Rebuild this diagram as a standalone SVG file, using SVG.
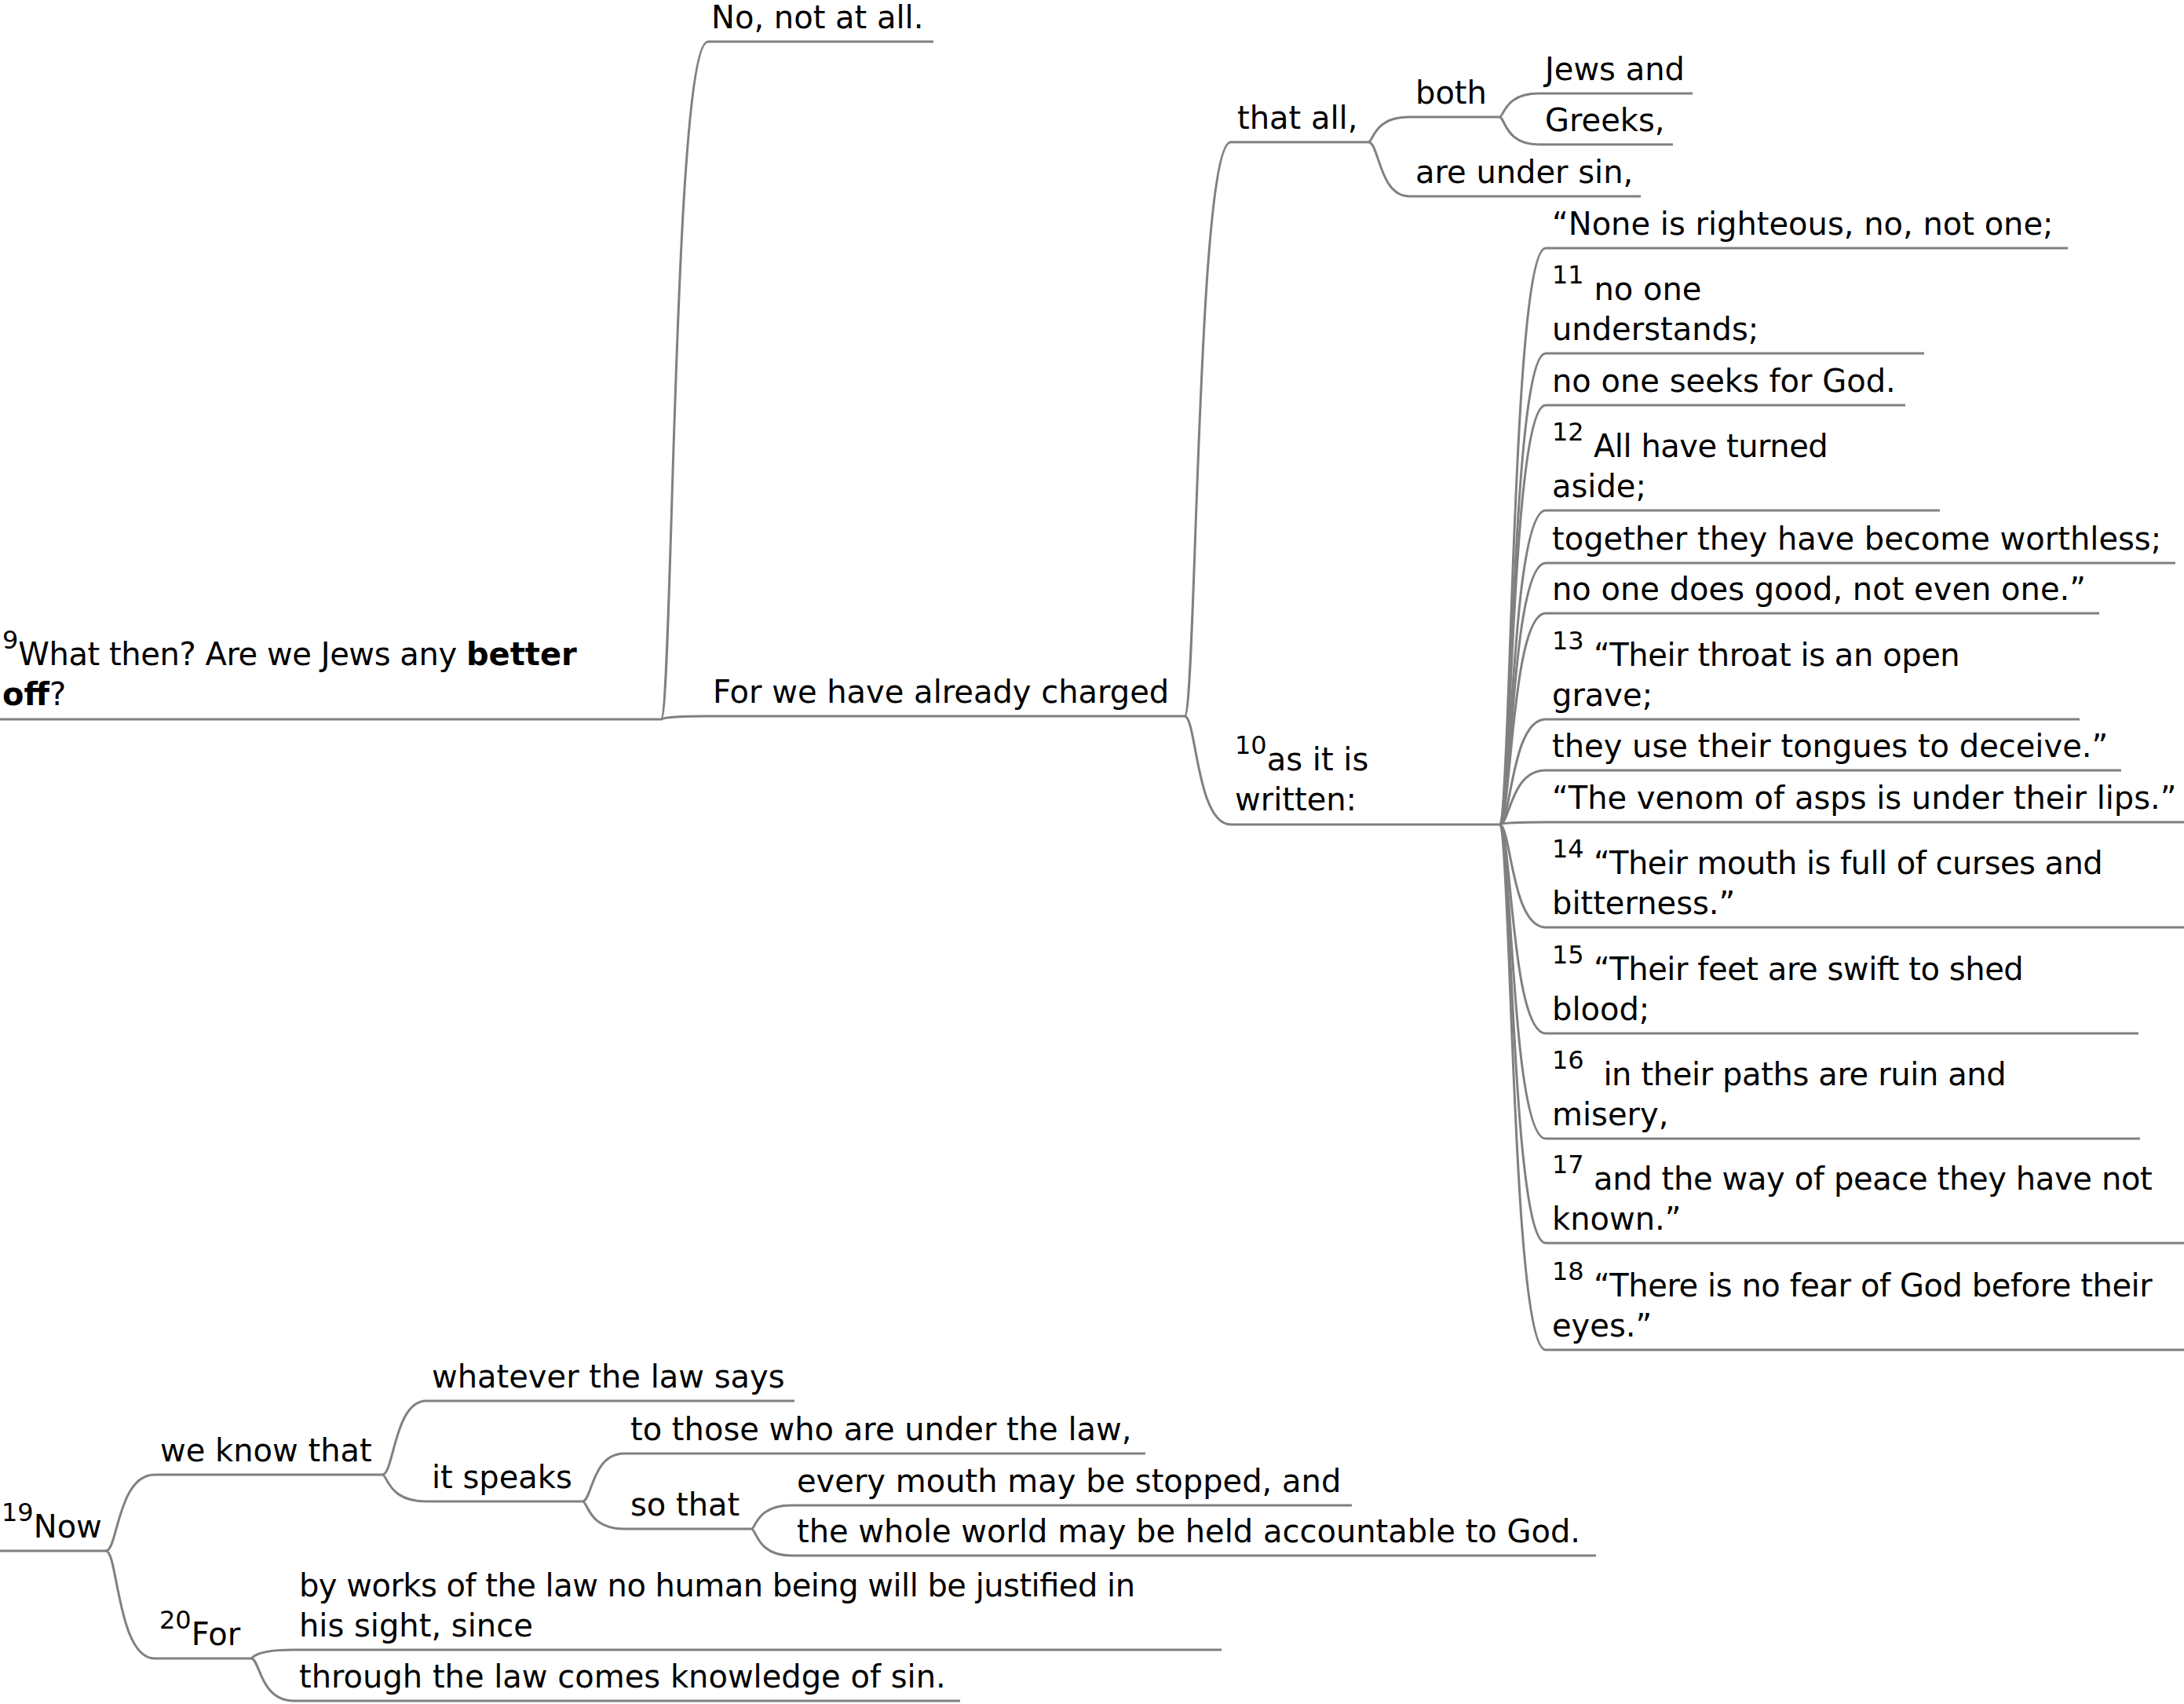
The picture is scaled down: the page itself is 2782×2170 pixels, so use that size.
<svg xmlns="http://www.w3.org/2000/svg" width="2782" height="2170" viewBox="0 0 2782 2170">
<style>
text { font-family: "DejaVu Sans", "Noto Sans", sans-serif; font-size: 40px; fill: #000; }
.s { font-size: 32px; }
.b { font-weight: bold; }
.u { stroke: #808080; stroke-width: 3; fill: none; }
#connectors path { stroke: #808080; stroke-width: 3; fill: none; }
</style>
<rect width="2782" height="2170" fill="#fff"/>
<g id="connectors">
<path d="M842,916 C857,916 857,53 902,53"/>
<path d="M842,916 C843,916 843,912 903,912"/>
<path d="M1509,912 C1524,912 1524,181 1568,181"/>
<path d="M1509,912 C1524,912 1524,1050 1568,1050"/>
<path d="M1743,181 C1749.4,181 1749.4,149 1795,149"/>
<path d="M1743,181 C1756.8,181 1756.8,250 1795,250"/>
<path d="M1910,149 C1916,149 1916,119 1960,119"/>
<path d="M1910,149 C1917,149 1917,184 1960,184"/>
<path d="M1910,1050 C1925,1050 1925,316 1969,316"/>
<path d="M1910,1050 C1925,1050 1925,450 1969,450"/>
<path d="M1910,1050 C1925,1050 1925,516 1969,516"/>
<path d="M1910,1050 C1925,1050 1925,650 1969,650"/>
<path d="M1910,1050 C1925,1050 1925,717 1969,717"/>
<path d="M1910,1050 C1925,1050 1925,781 1969,781"/>
<path d="M1910,1050 C1925,1050 1925,916 1969,916"/>
<path d="M1910,1050 C1923.8,1050 1923.8,981 1969,981"/>
<path d="M1910,1050 C1910.6,1050 1910.6,1047 1969,1047"/>
<path d="M1910,1050 C1925,1050 1925,1181 1969,1181"/>
<path d="M1910,1050 C1925,1050 1925,1316 1969,1316"/>
<path d="M1910,1050 C1925,1050 1925,1450 1969,1450"/>
<path d="M1910,1050 C1925,1050 1925,1583 1969,1583"/>
<path d="M1910,1050 C1925,1050 1925,1719 1969,1719"/>
<path d="M135,1975 C150,1975 150,1878 197,1878"/>
<path d="M135,1975 C150,1975 150,2112 197,2112"/>
<path d="M487,1878 C502,1878 502,1784 543,1784"/>
<path d="M487,1878 C493.8,1878 493.8,1912 543,1912"/>
<path d="M742,1912 C754,1912 754,1851 795,1851"/>
<path d="M742,1912 C749,1912 749,1947 795,1947"/>
<path d="M957,1947 C963,1947 963,1917 1008,1917"/>
<path d="M957,1947 C963.8,1947 963.8,1981 1008,1981"/>
<path d="M320,2112 C322,2112 322,2101 374,2101"/>
<path d="M320,2112 C331,2112 331,2166 374,2166"/>
</g>

<g id="n-root9">
<line class="u" x1="0" y1="916" x2="842" y2="916"/>
<text x="3" y="847"><tspan class="s" dy="-21">9</tspan><tspan dy="21" textLength="571" lengthAdjust="spacing">What then? Are we Jews any </tspan><tspan class="b">better</tspan></text>
<text x="3" y="898"><tspan class="b">off</tspan>?</text>
</g>
<g id="n-no">
<line class="u" x1="902" y1="53" x2="1189" y2="53"/>
<text x="906" y="36">No, not at all.</text>
</g>
<g id="n-for">
<line class="u" x1="903" y1="912" x2="1509" y2="912"/>
<text x="908" y="895">For we have already charged</text>
</g>
<g id="n-thatall">
<line class="u" x1="1568" y1="181" x2="1743" y2="181"/>
<text x="1576" y="164">that all,</text>
</g>
<g id="n-both">
<line class="u" x1="1795" y1="149" x2="1910" y2="149"/>
<text x="1803" y="132">both</text>
</g>
<g id="n-jews">
<line class="u" x1="1960" y1="119" x2="2156" y2="119"/>
<text x="1968" y="102">Jews and</text>
</g>
<g id="n-greeks">
<line class="u" x1="1960" y1="184" x2="2131" y2="184"/>
<text x="1968" y="167">Greeks,</text>
</g>
<g id="n-undersin">
<line class="u" x1="1795" y1="250" x2="2090" y2="250"/>
<text x="1803" y="233">are under sin,</text>
</g>
<g id="n-written">
<line class="u" x1="1568" y1="1050" x2="1910" y2="1050"/>
<text x="1573" y="981"><tspan class="s" dy="-21">10</tspan><tspan dy="21">as it is</tspan></text>
<text x="1573" y="1032">written:</text>
</g>

<g id="n-v10">
<line class="u" x1="1969" y1="316" x2="2634" y2="316"/>
<text x="1977" y="299">“None is righteous, no, not one;</text>
</g>
<g id="n-v11a">
<line class="u" x1="1969" y1="450" x2="2451" y2="450"/>
<text x="1977" y="382"><tspan class="s" dy="-21">11</tspan><tspan dy="21"> no one</tspan></text>
<text x="1977" y="433">understands;</text>
</g>
<g id="n-v11b">
<line class="u" x1="1969" y1="516" x2="2427" y2="516"/>
<text x="1977" y="499">no one seeks for God.</text>
</g>
<g id="n-v12a">
<line class="u" x1="1969" y1="650" x2="2471" y2="650"/>
<text x="1977" y="582"><tspan class="s" dy="-21">12</tspan><tspan dy="21" textLength="311" lengthAdjust="spacing"> All have turned</tspan></text>
<text x="1977" y="633">aside;</text>
</g>
<g id="n-v12b">
<line class="u" x1="1969" y1="717" x2="2771" y2="717"/>
<text x="1977" y="700">together they have become worthless;</text>
</g>
<g id="n-v12c">
<line class="u" x1="1969" y1="781" x2="2674" y2="781"/>
<text x="1977" y="764">no one does good, not even one.”</text>
</g>
<g id="n-v13a">
<line class="u" x1="1969" y1="916" x2="2649" y2="916"/>
<text x="1977" y="848"><tspan class="s" dy="-21">13</tspan><tspan dy="21" textLength="479" lengthAdjust="spacing"> “Their throat is an open</tspan></text>
<text x="1977" y="899">grave;</text>
</g>
<g id="n-v13b">
<line class="u" x1="1969" y1="981" x2="2702" y2="981"/>
<text x="1977" y="964">they use their tongues to deceive.”</text>
</g>
<g id="n-v13c">
<line class="u" x1="1969" y1="1047" x2="2782" y2="1047"/>
<text x="1977" y="1030">“The venom of asps is under their lips.”</text>
</g>
<g id="n-v14">
<line class="u" x1="1969" y1="1181" x2="2782" y2="1181"/>
<text x="1977" y="1113"><tspan class="s" dy="-21">14</tspan><tspan dy="21" textLength="661" lengthAdjust="spacing"> “Their mouth is full of curses and</tspan></text>
<text x="1977" y="1164">bitterness.”</text>
</g>
<g id="n-v15">
<line class="u" x1="1969" y1="1316" x2="2724" y2="1316"/>
<text x="1977" y="1248"><tspan class="s" dy="-21">15</tspan><tspan dy="21" textLength="560" lengthAdjust="spacing"> “Their feet are swift to shed</tspan></text>
<text x="1977" y="1299">blood;</text>
</g>
<g id="n-v16">
<line class="u" x1="1969" y1="1450" x2="2726" y2="1450"/>
<text x="1977" y="1382" xml:space="preserve"><tspan class="s" dy="-21">16</tspan><tspan dy="21" textLength="538" lengthAdjust="spacing">  in their paths are ruin and</tspan></text>
<text x="1977" y="1433">misery,</text>
</g>
<g id="n-v17">
<line class="u" x1="1969" y1="1583" x2="2782" y2="1583"/>
<text x="1977" y="1515"><tspan class="s" dy="-21">17</tspan><tspan dy="21" textLength="724" lengthAdjust="spacing"> and the way of peace they have not</tspan></text>
<text x="1977" y="1566">known.”</text>
</g>
<g id="n-v18">
<line class="u" x1="1969" y1="1719" x2="2782" y2="1719"/>
<text x="1977" y="1651"><tspan class="s" dy="-21">18</tspan><tspan dy="21" textLength="724" lengthAdjust="spacing"> “There is no fear of God before their</tspan></text>
<text x="1977" y="1702">eyes.”</text>
</g>

<g id="n-now">
<line class="u" x1="0" y1="1975" x2="135" y2="1975"/>
<text x="2" y="1958"><tspan class="s" dy="-21">19</tspan><tspan dy="21">Now</tspan></text>
</g>
<g id="n-weknow">
<line class="u" x1="197" y1="1878" x2="487" y2="1878"/>
<text x="204" y="1861">we know that</text>
</g>
<g id="n-whatever">
<line class="u" x1="543" y1="1784" x2="1012" y2="1784"/>
<text x="550" y="1767">whatever the law says</text>
</g>
<g id="n-speaks">
<line class="u" x1="543" y1="1912" x2="742" y2="1912"/>
<text x="550" y="1895">it speaks</text>
</g>
<g id="n-tothose">
<line class="u" x1="795" y1="1851" x2="1459" y2="1851"/>
<text x="803" y="1834">to those who are under the law,</text>
</g>
<g id="n-sothat">
<line class="u" x1="795" y1="1947" x2="957" y2="1947"/>
<text x="803" y="1930">so that</text>
</g>
<g id="n-every">
<line class="u" x1="1008" y1="1917" x2="1722" y2="1917"/>
<text x="1015" y="1900">every mouth may be stopped, and</text>
</g>
<g id="n-whole">
<line class="u" x1="1008" y1="1981" x2="2033" y2="1981"/>
<text x="1015" y="1964">the whole world may be held accountable to God.</text>
</g>
<g id="n-for20">
<line class="u" x1="197" y1="2112" x2="320" y2="2112"/>
<text x="203" y="2095"><tspan class="s" dy="-21">20</tspan><tspan dy="21">For</tspan></text>
</g>
<g id="n-byworks">
<line class="u" x1="374" y1="2101" x2="1556" y2="2101"/>
<text x="381" y="2033" textLength="1065" lengthAdjust="spacing">by works of the law no human being will be justified in</text>
<text x="381" y="2084">his sight, since</text>
</g>
<g id="n-through">
<line class="u" x1="374" y1="2166" x2="1223" y2="2166"/>
<text x="381" y="2149">through the law comes knowledge of sin.</text>
</g>
</svg>
